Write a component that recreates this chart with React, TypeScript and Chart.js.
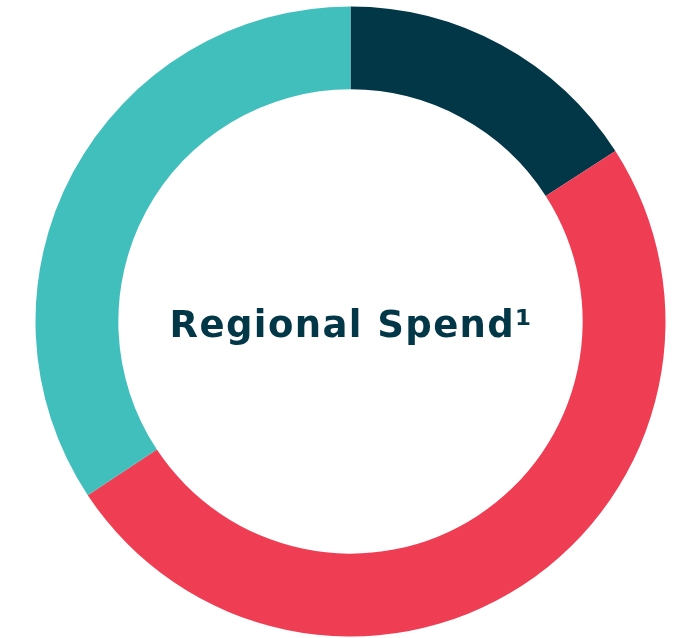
import React, { useEffect, useRef } from "react";
import { Chart, registerables } from "chart.js";

Chart.register(...registerables);

const categories = ["Region 1", "Region 2", "Region 3"];
const values = [15.9, 49.8, 34.3];
const colors = ["#023748", "#EF3E54", "#40BFBC"];
const centerTitle = "Regional Spend¹";

const centerTextPlugin = {
  id: "centerText",
  afterDraw(chart: any) {
    const { ctx, chartArea } = chart;
    const cx = (chartArea.left + chartArea.right) / 2;
    const cy = (chartArea.top + chartArea.bottom) / 2;
    ctx.save();
    ctx.font = "bold 37px 'DejaVu Sans', Verdana, sans-serif";
    (ctx as any).letterSpacing = "1.4px";
    ctx.fillStyle = "#023748";
    ctx.textAlign = "center";
    ctx.textBaseline = "alphabetic";
    ctx.fillText(centerTitle, cx + 0.7, cy + 15.5);
    ctx.restore();
  },
};

export default function App() {
  const ref = useRef<HTMLCanvasElement | null>(null);
  useEffect(() => {
    document.body.style.margin = "0";
    if (!ref.current) return;
    const chart = new Chart(ref.current, {
      type: "doughnut",
      data: {
        labels: categories,
        datasets: [
          {
            data: values,
            backgroundColor: colors,
            borderWidth: 0,
            hoverOffset: 0,
          },
        ],
      },
      options: {
        animation: false,
        responsive: true,
        maintainAspectRatio: false,
        cutout: "73.7%",
        layout: { padding: { left: 35.5, right: 19.5, top: 6.5, bottom: 1.5 } },
        plugins: {
          legend: { display: false },
          tooltip: { enabled: false },
          title: { display: false },
        },
      },
      plugins: [centerTextPlugin],
    });
    return () => chart.destroy();
  }, []);
  return (
    <div style={{ width: 685, height: 638, position: "relative" }}>
      <canvas ref={ref} />
    </div>
  );
}
